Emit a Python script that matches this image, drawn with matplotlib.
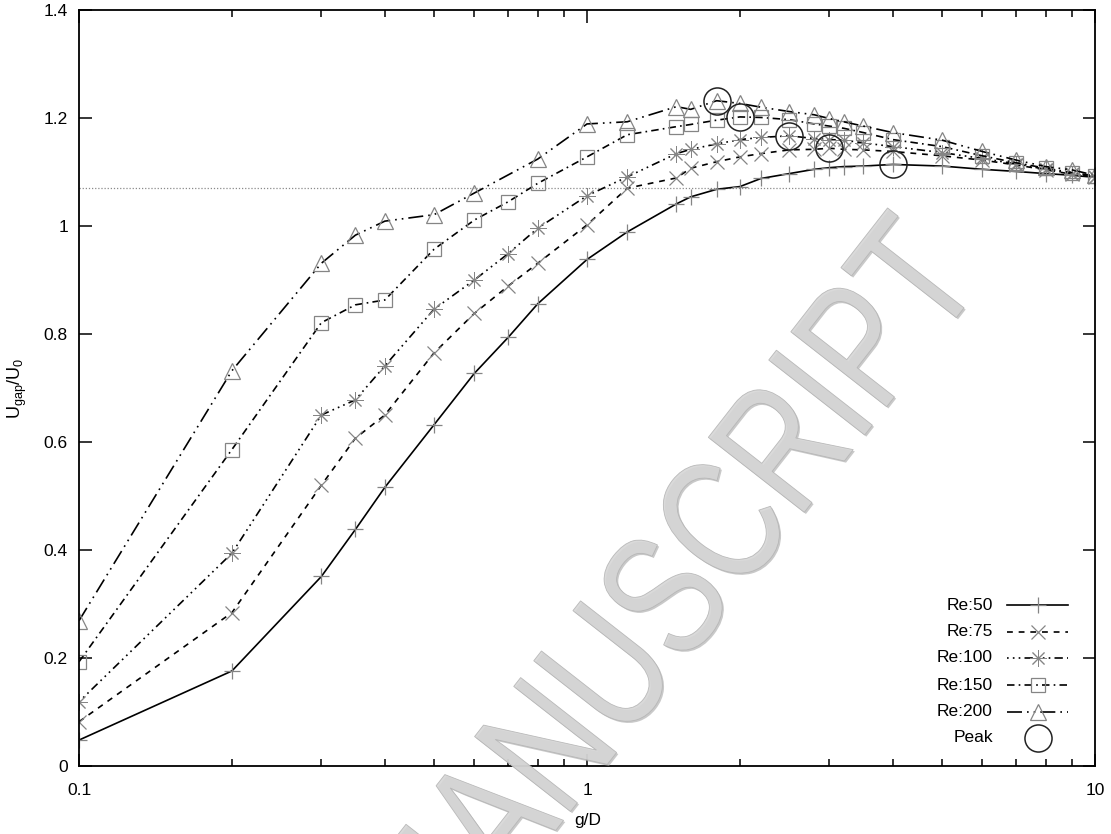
import matplotlib
matplotlib.use('Agg')
import matplotlib.pyplot as plt
import matplotlib.ticker as mticker
import matplotlib.patheffects as pe
from matplotlib.textpath import TextPath
from matplotlib.font_manager import FontProperties
from matplotlib.patches import PathPatch
from matplotlib.transforms import Affine2D

plt.rcParams['font.family'] = ['Liberation Sans', 'DejaVu Sans']

# g/D sample positions
gd = [0.1, 0.2, 0.3, 0.35, 0.4, 0.5, 0.6, 0.7, 0.8, 1.0, 1.2, 1.5, 1.6, 1.8,
      2.0, 2.2, 2.5, 2.8, 3.0, 3.2, 3.5, 4.0, 5.0, 6.0, 7.0, 8.0, 9.0, 10.0]
# Re:200 has no run at g/D = 0.7
gd_200 = [0.1, 0.2, 0.3, 0.35, 0.4, 0.5, 0.6, 0.8, 1.0, 1.2, 1.5, 1.6, 1.8,
          2.0, 2.2, 2.5, 2.8, 3.0, 3.2, 3.5, 4.0, 5.0, 6.0, 7.0, 8.0, 9.0, 10.0]

u_re50 = [0.048, 0.176, 0.351, 0.438, 0.516, 0.632, 0.727, 0.794, 0.856, 0.938,
          0.989, 1.041, 1.054, 1.068, 1.073, 1.088, 1.097, 1.105, 1.108, 1.110,
          1.111, 1.114, 1.111, 1.105, 1.101, 1.097, 1.094, 1.090]
u_re75 = [0.082, 0.284, 0.520, 0.607, 0.650, 0.765, 0.838, 0.889, 0.931, 1.002,
          1.070, 1.089, 1.107, 1.119, 1.128, 1.134, 1.141, 1.142, 1.144, 1.142,
          1.141, 1.138, 1.130, 1.122, 1.113, 1.104, 1.096, 1.091]
u_re100 = [0.119, 0.394, 0.650, 0.678, 0.741, 0.846, 0.900, 0.949, 0.996, 1.056,
           1.091, 1.134, 1.142, 1.152, 1.160, 1.164, 1.167, 1.162, 1.160, 1.159,
           1.154, 1.147, 1.136, 1.125, 1.115, 1.105, 1.097, 1.091]
u_re150 = [0.193, 0.586, 0.821, 0.854, 0.863, 0.957, 1.011, 1.045, 1.079, 1.128,
           1.169, 1.184, 1.188, 1.196, 1.202, 1.201, 1.197, 1.189, 1.185, 1.181,
           1.173, 1.160, 1.147, 1.130, 1.117, 1.107, 1.099, 1.093]
u_re200 = [0.269, 0.732, 0.931, 0.983, 1.009, 1.021, 1.061, 1.124, 1.189, 1.193,
           1.221, 1.216, 1.232, 1.227, 1.220, 1.212, 1.206, 1.199, 1.193, 1.185,
           1.173, 1.159, 1.138, 1.122, 1.110, 1.104, 1.094]

# g/D where each Re reaches its maximum gap velocity
peak_gd = [4.0, 3.0, 2.5, 2.0, 1.8]
ref_level = 1.07

labels = ['Re:50', 'Re:75', 'Re:100', 'Re:150', 'Re:200']

MK_GRAY = '#858585'
LW = 1.2
styles = [
    dict(ls='-', marker='+', ms=11, mew=0.9),
    dict(ls=(0, (3.5, 3.5)), marker='x', ms=10, mew=0.9),
    dict(ls=(0, (1, 2.5, 1, 2.5, 1, 2.5, 5, 2.5)), marker=(8, 2, 0), ms=12, mew=0.7),
    dict(ls=(0, (4.5, 2.5, 1, 2.5)), marker='s', ms=9.5, mew=0.9),
    dict(ls=(0, (9, 3, 1, 3, 1, 3)), marker='^', ms=12, mew=0.9),
]
series = [(gd, u_re50), (gd, u_re75), (gd, u_re100), (gd, u_re150), (gd_200, u_re200)]

fig = plt.figure(figsize=(11.11, 8.34), dpi=100)
ax = fig.add_axes([79 / 1111, 68 / 834, 1016 / 1111, 756 / 834])

for (xs, ys), st in zip(series, styles):
    ax.plot(xs, ys, color='black', lw=LW, linestyle=st['ls'], marker=st['marker'],
            ms=st['ms'], mfc='none', mec=MK_GRAY, mew=st['mew'])

# peak markers, taken from each series
for (xs, ys), pg in zip(series, peak_gd):
    i = xs.index(pg)
    ax.plot(xs[i], ys[i], 'o', ms=19.5, mfc='none', mec='#222222', mew=1.1, zorder=5)

ax.axhline(ref_level, color='#8a8a8a', lw=0.9, ls=(0, (1, 1.5)), zorder=1)

ax.set_xscale('log')
ax.set_xlim(0.1, 10)
ax.set_ylim(0, 1.4)
ax.set_yticks([0, 0.2, 0.4, 0.6, 0.8, 1.0, 1.2, 1.4])
ax.yaxis.set_major_formatter(mticker.FuncFormatter(lambda v, p: f'{v:g}'))
ax.xaxis.set_major_locator(mticker.LogLocator(base=10))
ax.xaxis.set_major_formatter(mticker.FuncFormatter(lambda v, p: f'{v:g}'))
ax.xaxis.set_minor_locator(mticker.LogLocator(base=10, subs=range(2, 10)))
ax.xaxis.set_minor_formatter(mticker.NullFormatter())

ax.tick_params(which='both', direction='in', top=True, right=True, width=1.1,
               labelsize=12.5, colors='black')
ax.tick_params(which='major', length=9)
ax.tick_params(which='minor', length=5)
ax.tick_params(axis='x', pad=12)
ax.tick_params(axis='y', pad=8)
for sp in ax.spines.values():
    sp.set_linewidth(1.3)

fig.text(17 / 1111, 1 - 388 / 834, r'$\mathregular{U_{gap}/U_0}$', rotation=90,
         ha='center', va='center', fontsize=13)
fig.text(588 / 1111, 1 - 820 / 834, 'g/D', ha='center', va='center', fontsize=12.5)

# key drawn gnuplot-style: right-aligned text, sample to the right
def ax_xy(px, py):
    return (px - 79) / 1016, (766 - py) / 756

row_y = [605, 632, 658, 685, 712]
for lab, st, py in zip(labels, styles, row_y):
    tx, ty = ax_xy(993, py)
    ax.text(tx, ty, lab, transform=ax.transAxes, ha='right', va='center', fontsize=12.5)
    x1, _ = ax_xy(1007, py)
    xm, _ = ax_xy(1038, py)
    x2, _ = ax_xy(1068, py)
    ax.plot([x1, xm, x2], [ty, ty, ty], transform=ax.transAxes, color='black', lw=LW,
            linestyle=st['ls'], marker=st['marker'], ms=st['ms'], mfc='none',
            mec=MK_GRAY, mew=st['mew'], markevery=[1], clip_on=False)
tx, ty = ax_xy(993, 738)
ax.text(tx, ty, 'Peak', transform=ax.transAxes, ha='right', va='center', fontsize=12.5)
xm, _ = ax_xy(1038, 738)
ax.plot([xm], [ty], 'o', transform=ax.transAxes, ms=19.5, mfc='none', mec='#222222',
        mew=1.1, clip_on=False)

# diagonal watermark
fp = FontProperties(family='Liberation Sans')
wm = TextPath((0, 0), 'ACCEPTED MANUSCRIPT', size=1, prop=fp)
t_mid = wm.get_extents().x1 - 0.285
em = 177
tr = (Affine2D().translate(-t_mid, 0).scale(0.757 * em, em)
      .rotate_deg(52).translate(960, 834 - 313))
patch = PathPatch(wm, transform=tr, facecolor='#d6d6d6', edgecolor='#b4b4b4',
                  lw=0.6, alpha=0.9, zorder=10)
patch.set_path_effects([pe.SimplePatchShadow(offset=(1.2, -1.2), shadow_rgbFace='#a5a5a5',
                                             alpha=0.6), pe.Normal()])
fig.add_artist(patch)

fig.savefig('out.png', dpi=100, facecolor='white')
plt.close(fig)
